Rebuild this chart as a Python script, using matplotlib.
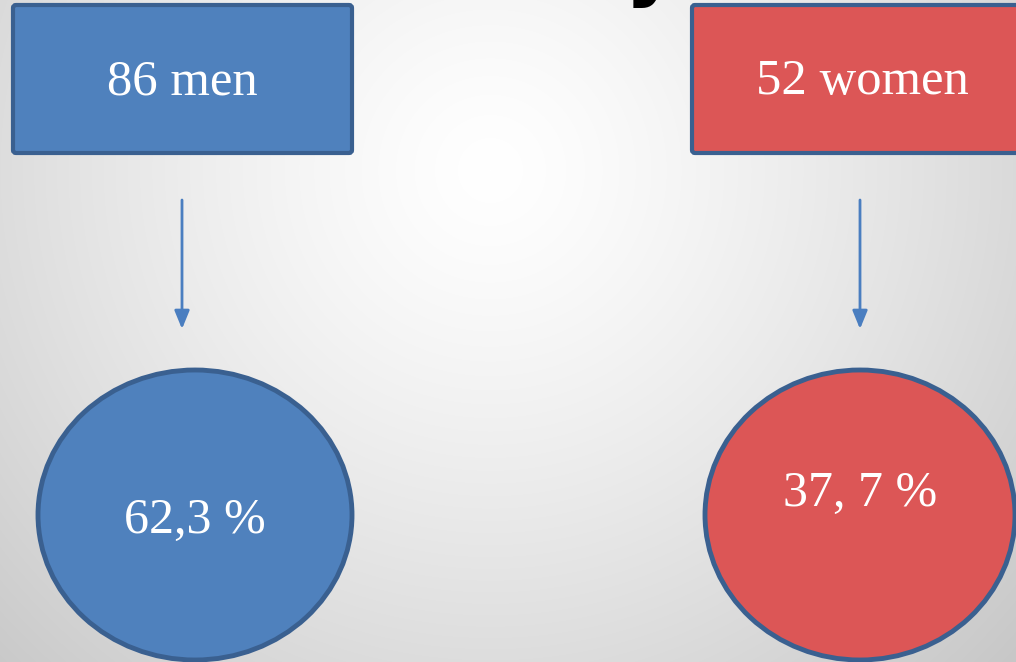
import numpy as np
import matplotlib
matplotlib.use("Agg")
import matplotlib.pyplot as plt
from matplotlib.patches import Ellipse, FancyBboxPatch

# ---- data ----
groups = ["men", "women"]
counts = [86, 52]
percent_labels = ["62,3 %", "37, 7 %"]

# ---- styles ----
fill_colors = ["#4F81BD", "#DC5656"]
edge_color = "#3A6090"
arrow_color = "#4A7EC0"
W, H = 1016, 662

fig = plt.figure(figsize=(W / 100, H / 100), dpi=100)
ax = fig.add_axes([0, 0, 1, 1])
ax.set_xlim(0, W)
ax.set_ylim(H, 0)
ax.axis("off")

# radial gradient background
yy, xx = np.mgrid[0:H, 0:W]
d = np.hypot(xx - 490, yy - 170) / 720.0
v = 1 - 0.22 * np.clip(d, 0, 1.2) ** 1.3
img = np.dstack([v, v, v])
ax.imshow(img, extent=(0, W, H, 0), aspect="auto", zorder=0)

# layout (pixel positions)
box_x = [13, 692]
box_w = [339, 340]
box_y, box_h = 5, 148
box_text_x = [182, 862]
arrow_x = [182, 860]
ell_cx = [195, 860]
ell_w = [314, 310]
ell_cy, ell_h = 515, 290
pct_y = [521, 494]

font = "Liberation Serif"

for i in range(len(groups)):
    box = FancyBboxPatch((box_x[i], box_y), box_w[i], box_h,
                         boxstyle="round,pad=0,rounding_size=3",
                         facecolor=fill_colors[i], edgecolor=edge_color,
                         linewidth=3, zorder=2)
    ax.add_patch(box)
    ax.text(box_text_x[i], box_y + box_h / 2 + 3,
            f"{counts[i]} {groups[i]}", color="white", fontsize=36.5,
            family=font, ha="center", va="center", zorder=3)

    ax.annotate("", xy=(arrow_x[i], 329), xytext=(arrow_x[i], 200),
                arrowprops=dict(arrowstyle="-|>,head_length=1.1,head_width=0.45",
                                color=arrow_color, lw=2, shrinkA=0, shrinkB=0),
                zorder=2)

    ell = Ellipse((ell_cx[i], ell_cy), ell_w[i], ell_h,
                  facecolor=fill_colors[i], edgecolor=edge_color,
                  linewidth=3.5, zorder=2)
    ax.add_patch(ell)
    ax.text(ell_cx[i], pct_y[i], percent_labels[i], color="white", fontsize=36,
            family=font, ha="center", va="center", zorder=3)

# cut-off title glyph at the very top (only its descender tail is visible)
ax.text(652, -10, "y", color="black", fontsize=60, fontweight="bold",
        family="DejaVu Sans", ha="center", va="baseline", zorder=3)

fig.savefig("out.png", dpi=100)
